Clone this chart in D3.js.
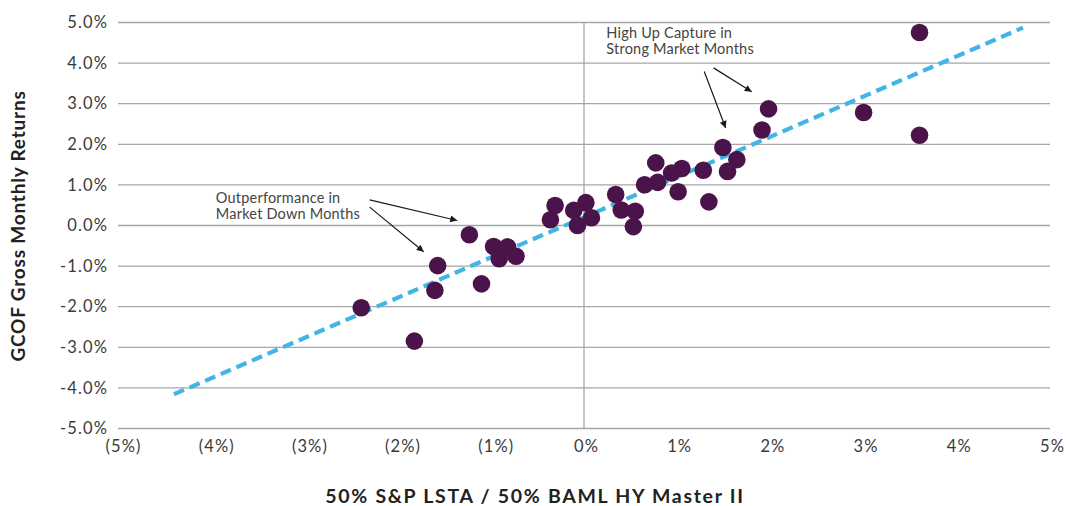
<!DOCTYPE html>
<html>
<head>
<meta charset="utf-8">
<script src="https://cdn.jsdelivr.net/npm/d3@7"></script>
<style>
  body { margin: 0; background: #fff; }
  svg { display: block; }
  .tick-label { font-family: Lato, "Open Sans", sans-serif; font-weight: 400; font-size: 16.5px; fill: #3a3a3a; letter-spacing: 1.1px; }
  .axis-title { font-family: Lato, "Open Sans", sans-serif; font-weight: 700; fill: #222; }
  .note { font-family: Lato, "Open Sans", sans-serif; font-weight: 400; font-size: 14.5px; fill: #444; letter-spacing: 0.2px; }
  .grid line { stroke: #a6a6a6; stroke-width: 1.3; }
</style>
</head>
<body>
<svg width="1066" height="506"></svg>
<script>
// market return (x, %) and fund return (y, %) per month
var marketReturns = [3.60, 3.60, 3.00, 1.98, 1.91, 1.49, 1.64, 1.54, 1.28, 1.34,
                     0.77, 1.05, 0.94, 0.79, 0.65, 1.01, 0.34, 0.40, 0.55, 0.53,
                     0.02, 0.08, -0.11, -0.07, -0.31, -0.36, -1.23, -0.97, -0.82, -0.91,
                     -0.73, -1.10, -1.57, -1.60, -2.39, -1.82];
var fundReturns   = [4.74, 2.21, 2.77, 2.86, 2.34, 1.91, 1.61, 1.32, 1.35, 0.57,
                     1.53, 1.39, 1.28, 1.05, 0.99, 0.82, 0.75, 0.37, 0.34, -0.04,
                     0.55, 0.18, 0.36, -0.01, 0.48, 0.13, -0.24, -0.53, -0.54, -0.83,
                     -0.77, -1.45, -1.00, -1.61, -2.04, -2.86];

// fitted trend line end points
var trendX = [-4.40, 4.71];
var trendY = [-4.17, 4.86];

var xTicks = [-5, -4, -3, -2, -1, 0, 1, 2, 3, 4, 5];
var yTicks = [5, 4, 3, 2, 1, 0, -1, -2, -3, -4, -5];

// annotation text (anchor in data units) and arrows
var noteLines = [["Outperformance in", "Market Down Months"],
                 ["High Up Capture in", "Strong Market Months"]];
var noteAnchors = [[-3.95, 0.55], [0.24, 4.61]];
var arrows = [[-2.30, 0.62, -1.36, 0.11],
              [-2.30, 0.44, -1.72, -0.66],
              [1.29, 3.78, 1.52, 2.39],
              [1.39, 3.87, 1.80, 3.28]];

var margin = {top: 22, right: 16, bottom: 78, left: 118},
    width = 1066 - margin.left - margin.right,
    height = 506 - margin.top - margin.bottom;

var svg = d3.select("svg");
var defs = svg.append("defs");
defs.append("marker")
    .attr("id", "head")
    .attr("viewBox", "0 0 10 10")
    .attr("refX", 10).attr("refY", 5)
    .attr("markerWidth", 10).attr("markerHeight", 7)
    .attr("markerUnits", "userSpaceOnUse")
    .attr("orient", "auto")
  .append("path")
    .attr("d", "M0,0 L10,5 L0,10 Z")
    .attr("fill", "#1a1a1a");

var g = svg.append("g")
    .attr("transform", "translate(" + margin.left + "," + margin.top + ")");

var xScale = d3.scaleLinear().domain([-5, 5]).range([0, width]);
var yScale = d3.scaleLinear().domain([-5, 5]).range([height, 0]);

// horizontal grid
g.append("g")
    .attr("class", "grid")
    .call(d3.axisLeft(yScale).tickValues(yTicks).tickSize(-width).tickFormat(""))
    .call(s => s.select(".domain").remove());

// zero line
g.append("line")
    .attr("x1", xScale(0)).attr("x2", xScale(0))
    .attr("y1", 0).attr("y2", height)
    .attr("stroke", "#a6a6a6").attr("stroke-width", 1.3);

// y tick labels
var yAxis = g.append("g")
    .call(d3.axisLeft(yScale).tickValues(yTicks).tickSize(0).tickPadding(10)
        .tickFormat(d => d.toFixed(1) + "%"));
yAxis.select(".domain").remove();
yAxis.selectAll("text").attr("class", "tick-label").attr("dy", "0.35em");

// x tick labels
var xAxis = g.append("g")
    .attr("transform", "translate(0," + height + ")")
    .call(d3.axisBottom(xScale).tickValues(xTicks).tickSize(0).tickPadding(12)
        .tickFormat(d => d < 0 ? "(" + Math.abs(d) + "%)" : d + "%"));
xAxis.select(".domain").remove();
xAxis.selectAll("text").attr("class", "tick-label")
    .attr("dx", d => d < 0 ? 5 : 2);

// trend line
var line = d3.line().x(d => xScale(d[0])).y(d => yScale(d[1]));
g.append("path")
    .datum(d3.zip(trendX, trendY))
    .attr("d", line)
    .attr("fill", "none")
    .attr("stroke", "#41b6e6")
    .attr("stroke-width", 4.2)
    .attr("stroke-dasharray", "11,6");

// points
g.selectAll(".dot")
    .data(d3.zip(marketReturns, fundReturns))
  .enter().append("circle")
    .attr("class", "dot")
    .attr("cx", d => xScale(d[0]))
    .attr("cy", d => yScale(d[1]))
    .attr("r", 8.8)
    .attr("fill", "#4a134a");

// annotations
noteLines.forEach(function(lines, i) {
    var t = g.append("text")
        .attr("class", "note")
        .attr("x", xScale(noteAnchors[i][0]))
        .attr("y", yScale(noteAnchors[i][1]));
    lines.forEach(function(l, j) {
        t.append("tspan")
            .attr("x", xScale(noteAnchors[i][0]))
            .attr("dy", j === 0 ? 0 : 16)
            .text(l);
    });
});

g.selectAll(".arrow")
    .data(arrows)
  .enter().append("line")
    .attr("class", "arrow")
    .attr("x1", d => xScale(d[0])).attr("y1", d => yScale(d[1]))
    .attr("x2", d => xScale(d[2])).attr("y2", d => yScale(d[3]))
    .attr("stroke", "#1a1a1a")
    .attr("stroke-width", 1.2)
    .attr("marker-end", "url(#head)");

// axis titles
svg.append("text")
    .attr("class", "axis-title")
    .attr("x", 535).attr("y", 503)
    .attr("text-anchor", "middle")
    .style("font-size", "19.5px")
    .style("letter-spacing", "1.7px")
    .text("50% S&P LSTA / 50% BAML HY Master II");

svg.append("text")
    .attr("class", "axis-title")
    .attr("transform", "translate(25,226) rotate(-90)")
    .attr("text-anchor", "middle")
    .style("font-size", "19px")
    .style("letter-spacing", "0.8px")
    .text("GCOF Gross Monthly Returns");
</script>
</body>
</html>
